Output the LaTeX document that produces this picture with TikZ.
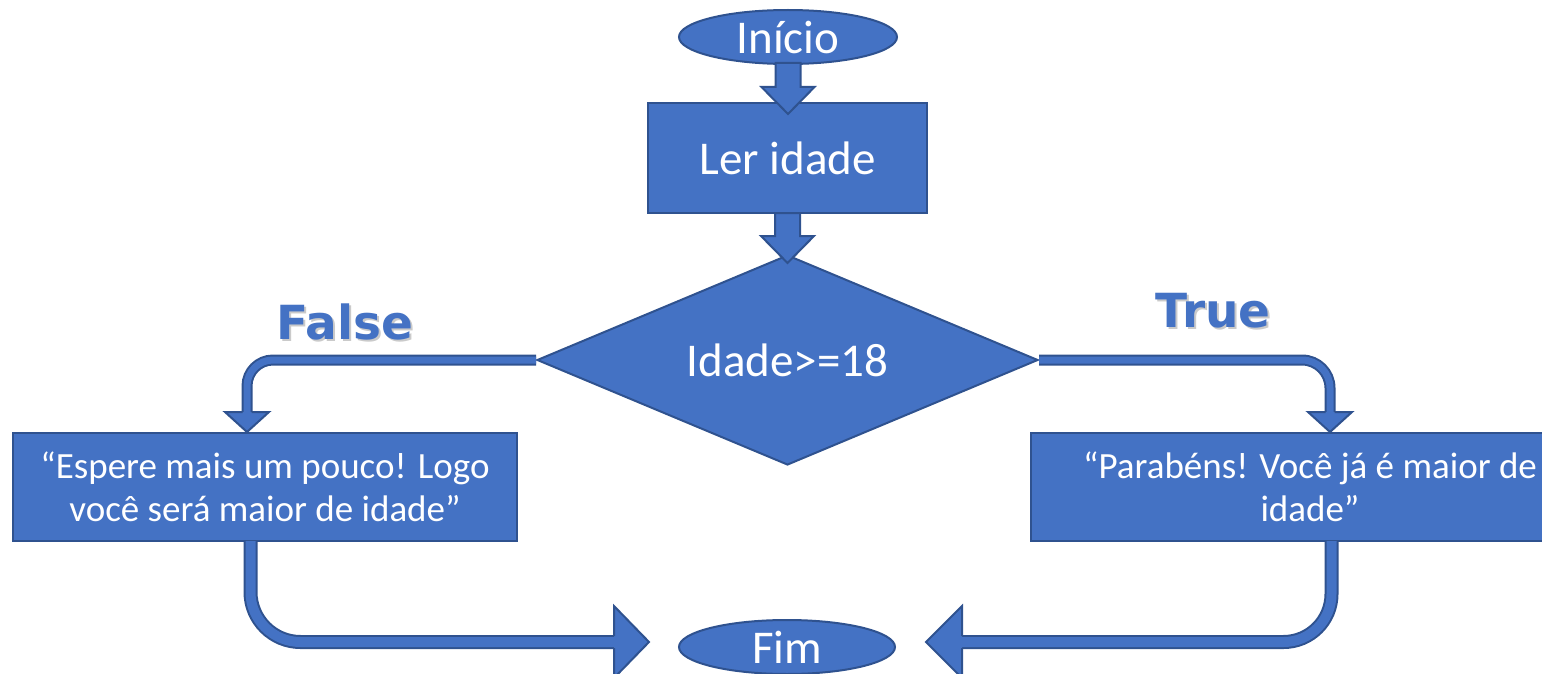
\documentclass[tikz,border=0pt]{standalone}
\usepackage{fontspec}
\setmainfont{Carlito}
\newfontfamily\tagfont{DejaVu Sans}
\usetikzlibrary{shapes.geometric,calc}
\definecolor{boxfill}{HTML}{4472C4}
\definecolor{boxline}{HTML}{2F528F}
\definecolor{tagshade}{HTML}{A6A6A6}

\tikzset{
  flow/.style={fill=boxfill, draw=boxline, line width=2pt, text=white, inner sep=0pt},
  terminal/.style={flow, ellipse, minimum width=218pt, minimum height=54pt,
    font=\fontsize{47}{56}\selectfont},
  process/.style={flow, rectangle, align=center},
  decision/.style={flow, diamond, aspect=2.386, minimum width=501pt, minimum height=210pt,
    font=\fontsize{47}{56}\selectfont},
  tube/.style={draw=boxline, line width=2pt, double=boxfill},
  headfill/.style={fill=boxfill},
  headline/.style={draw=boxline, line width=2pt, line join=miter},
  fatarrow/.style={fill=boxfill, draw=boxline, line width=2pt},
  tagtext/.style={font=\tagfont\bfseries\fontsize{47}{56}\selectfont, text=boxfill, inner sep=0pt},
  tagshadow/.style={font=\tagfont\bfseries\fontsize{47}{56}\selectfont, text=tagshade, opacity=0.6, inner sep=0pt}
}

% straight block arrow pointing down: #1 = top of shaft, #2 = tip
\newcommand\fatdown[2]{%
  \draw[fatarrow] let \p1=(#1), \p2=(#2) in
    ({\x1-12.5pt},\y1) -- ({\x1+12.5pt},\y1) -- ({\x1+12.5pt},{\y2+27pt})
    -- ({\x1+26.5pt},{\y2+27pt}) -- (\x1,\y2) -- ({\x1-26.5pt},{\y2+27pt})
    -- ({\x1-12.5pt},{\y2+27pt}) -- cycle;
}

\begin{document}
\begin{tikzpicture}[x=1pt, y=-1pt]
\useasboundingbox (0,0) rectangle (1542,674);
\clip (0,0) rectangle (1542,674);

% nodes
\node[terminal] (start) at (788,37) {Início};
\node[process, minimum width=279pt, minimum height=110pt,
      font=\fontsize{47}{56}\selectfont] (read) at (787.5,158) {Ler idade};
\node[decision] (cond) at (787.5,360) {Idade>=18};
\node[process, minimum width=504pt, minimum height=108pt,
      font=\fontsize{37}{43}\selectfont] (lbox) at (265,487)
      {“Espere mais um pouco! Logo\\você será maior de idade”};
\node[process, minimum width=558pt, minimum height=108pt,
      font=\fontsize{37}{43}\selectfont] (rbox) at (1310,487)
      {“Parabéns! Você já é maior de\\idade”};
\node[terminal, minimum width=216pt] (end) at (787,647) {Fim};

% branch labels
\node[tagshadow] at (347,324) {False};
\node[tagtext] (flab) at (345,322) {False};
\node[tagshadow] at (1215,313) {True};
\node[tagtext] (tlab) at (1213,311) {True};

% straight arrows between the top steps
\fatdown{$(start.south)+(0,-2)$}{$(read.north)+(0,12)$}
\fatdown{$(read.south)+(0,-1)$}{$(cond.north)+(0,9)$}

% False branch
\coordinate (ftip) at ($(lbox.north)+(-18,0)$);
\coordinate (fbase) at ($(ftip)+(0,-20)$);
\draw[tube, double distance=7pt, rounded corners=26pt] (cond.west) -| (fbase);
\fill[headfill] ($(fbase)+(-22,0)$) -- (ftip) -- ($(fbase)+(22,0)$) -- cycle;
\draw[headline] ($(fbase)+(-4.5,0)$) -- ($(fbase)+(-22,0)$) -- (ftip)
  -- ($(fbase)+(22,0)$) -- ($(fbase)+(4.5,0)$);

% True branch
\coordinate (ttip) at ($(rbox.north)+(20,0)$);
\coordinate (tbase) at ($(ttip)+(0,-20)$);
\draw[tube, double distance=7pt, rounded corners=28pt] (cond.east) -| (tbase);
\fill[headfill] ($(tbase)+(-22,0)$) -- (ttip) -- ($(tbase)+(22,0)$) -- cycle;
\draw[headline] ($(tbase)+(-4.5,0)$) -- ($(tbase)+(-22,0)$) -- (ttip)
  -- ($(tbase)+(22,0)$) -- ($(tbase)+(4.5,0)$);

% left box to end
\coordinate (ltip) at ($(end.west)+(-29,-5)$);
\coordinate (lbase) at ($(ltip)+(-35,0)$);
\draw[tube, double distance=10pt, rounded corners=50pt]
  ($(lbox.south)+(-14.5,-1)$) |- (lbase);
\fill[headfill] ($(lbase)+(0,-36)$) -- (ltip) -- ($(lbase)+(0,36)$) -- cycle;
\draw[headline] ($(lbase)+(0,-6)$) -- ($(lbase)+(0,-36)$) -- (ltip)
  -- ($(lbase)+(0,36)$) -- ($(lbase)+(0,6)$);

% right box to end
\coordinate (rtip) at ($(end.east)+(30,-5)$);
\coordinate (rbase) at ($(rtip)+(36,0)$);
\draw[tube, double distance=10pt, rounded corners=48pt]
  ($(rbox.south)+(21.5,-1)$) |- (rbase);
\fill[headfill] ($(rbase)+(0,-36)$) -- (rtip) -- ($(rbase)+(0,36)$) -- cycle;
\draw[headline] ($(rbase)+(0,-6)$) -- ($(rbase)+(0,-36)$) -- (rtip)
  -- ($(rbase)+(0,36)$) -- ($(rbase)+(0,6)$);
\end{tikzpicture}
\end{document}
